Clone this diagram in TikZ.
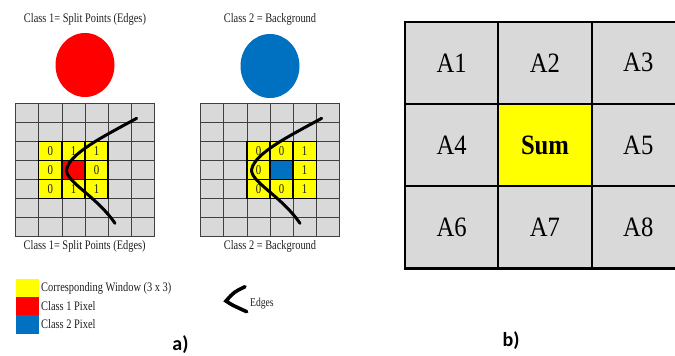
\documentclass[tikz,border=0pt]{standalone}
\usepackage{fontspec}
\setmainfont{Liberation Serif}
\newfontfamily\partfont{Carlito}
\usetikzlibrary{shapes.geometric}
\definecolor{cellgray}{HTML}{D9D9D9}
\definecolor{winyellow}{HTML}{FFFF00}
\definecolor{classred}{HTML}{FF0000}
\definecolor{classblue}{HTML}{0070C0}
\definecolor{textink}{HTML}{1F1F1F}
\newcommand{\squeezed}[1]{\scalebox{0.8}[1]{#1}}
\newcommand{\areatext}[1]{\scalebox{0.88}[1]{#1}}
\tikzset{
  grid line/.style={draw=black!75, line width=0.8pt},
  window line/.style={draw=black, line width=1.3pt},
  edge curve/.style={draw=black, line width=3pt, line cap=round},
  class disc/.style={ellipse, minimum width=59pt, minimum height=64pt,
    inner sep=0pt},
  class title/.style={font=\fontsize{13}{13}\selectfont, text=textink,
    inner sep=0pt},
  cell value/.style={font=\fontsize{13.5}{13.5}\selectfont, text=textink,
    inner sep=0pt},
  legend box/.style={minimum width=23.3pt, minimum height=18.5pt,
    inner sep=0pt, anchor=north west},
  legend text/.style={font=\fontsize{13}{13}\selectfont, text=textink,
    inner sep=0pt, anchor=west},
  area cell/.style={draw=black, line width=2.2pt, fill=cellgray,
    minimum width=93.3pt, minimum height=82.3pt, inner sep=0pt,
    font=\fontsize{28}{28}\selectfont},
  part label/.style={font=\partfont\bfseries\fontsize{20}{20}\selectfont,
    inner sep=0pt},
}

\begin{document}
\begin{tikzpicture}[x=1pt, y=-1pt]
  \useasboundingbox (0,0) rectangle (675,356);
  \clip (0,0) rectangle (675,356);

  % class 1 panel
  \node[class title] (title1) at (85,19.3) {\squeezed{Class 1= Split Points (Edges)}};
  \node[class disc, fill=classred] (disc1) at (85,65) {};
  \begin{scope}[shift={(15.7,103.3)}]
    \fill[cellgray] (0,0) rectangle (138.6,133.4);
    \fill[winyellow] (23.1,38.1) rectangle (92.4,95.3);
    \fill[classred] (46.2,57.2) rectangle (69.3,76.2);
    \foreach \gx in {0,...,6}
      \draw[grid line] (\gx*23.1,0) -- (\gx*23.1,133.4);
    \foreach \gy in {0,...,7}
      \draw[grid line] (0,\gy*19.06) -- (138.6,\gy*19.06);
    \foreach \gx in {1,...,4}
      \draw[window line] (\gx*23.1,38.12) -- (\gx*23.1,95.3);
    \foreach \gy in {2,...,5}
      \draw[window line] (23.1,\gy*19.06) -- (92.4,\gy*19.06);
    \foreach \vc/\vr/\val in {1/2/0, 2/2/1, 3/2/1, 1/3/0, 3/3/0, 1/4/0, 2/4/1, 3/4/1}
      \node[cell value] (gA\vc\vr) at (\vc*23.1+11.55,\vr*19.06+9.53) {\squeezed{\val}};
    \draw[edge curve] (121,15) .. controls (88,33) and (54,50) .. (51,66)
      .. controls (49,78) and (80,92) .. (99.3,120);
  \end{scope}
  \node[class title] (foot1) at (84.7,246.7) {\squeezed{Class 1= Split Points (Edges)}};

  % class 2 panel
  \node[class title] (title2) at (270,19) {\squeezed{Class 2 = Background}};
  \node[class disc, fill=classblue] (disc2) at (270,66) {};
  \begin{scope}[shift={(200.7,103.3)}]
    \fill[cellgray] (0,0) rectangle (138.6,133.4);
    \fill[winyellow] (46.2,38.1) rectangle (115.5,95.3);
    \fill[classblue] (69.3,57.2) rectangle (92.4,76.2);
    \foreach \gx in {0,...,6}
      \draw[grid line] (\gx*23.1,0) -- (\gx*23.1,133.4);
    \foreach \gy in {0,...,7}
      \draw[grid line] (0,\gy*19.06) -- (138.6,\gy*19.06);
    \foreach \gx in {2,...,5}
      \draw[window line] (\gx*23.1,38.12) -- (\gx*23.1,95.3);
    \foreach \gy in {2,...,5}
      \draw[window line] (46.2,\gy*19.06) -- (115.5,\gy*19.06);
    \foreach \vc/\vr/\val in {2/2/0, 3/2/0, 4/2/1, 2/3/0, 4/3/1, 2/4/0, 3/4/0, 4/4/1}
      \node[cell value] (gB\vc\vr) at (\vc*23.1+11.55,\vr*19.06+9.53) {\squeezed{\val}};
    \draw[edge curve] (121,15) .. controls (88,33) and (54,50) .. (51,66)
      .. controls (49,78) and (80,92) .. (99.3,120);
  \end{scope}
  \node[class title] (foot2) at (270,246.7) {\squeezed{Class 2 = Background}};

  % legend
  \node[legend box, fill=winyellow] (keyyellow) at (15.7,278.3) {};
  \node[legend box, fill=classred] (keyred) at (15.7,296.7) {};
  \node[legend box, fill=classblue] (keyblue) at (15.7,315) {};
  \node[legend text] (keywin) at (41,288.3) {\squeezed{Corresponding Window (3 x 3)}};
  \node[legend text] (keyone) at (41,306.5) {\squeezed{Class 1 Pixel}};
  \node[legend text] (keytwo) at (41,324.2) {\squeezed{Class 2 Pixel}};
  \coordinate (edgetop) at (245,286.7);
  \coordinate (edgetip) at (226,301);
  \coordinate (edgebot) at (246.7,311.7);
  \draw[edge curve, line width=3.6pt] (edgetop) .. controls (234,292) .. (edgetip)
    .. controls (232,305) .. (edgebot);
  \node[font=\fontsize{12}{12}\selectfont, text=textink, inner sep=0pt, anchor=west]
    (keyedge) at (250,303.3) {\squeezed{Edges}};
  \node[part label] (parta) at (180.5,345) {a)};

  % window sum
  \node[area cell] (a1) at (451.7,62.8) {\areatext{A1}};
  \node[area cell] (a2) at (545,62.8) {\areatext{A2}};
  \node[area cell] (a3) at (638.3,62.8) {\areatext{A3}};
  \node[area cell] (a4) at (451.7,145.1) {\areatext{A4}};
  \node[area cell, fill=winyellow, font=\fontsize{28}{28}\selectfont\bfseries]
    (sum) at (545,145.1) {\areatext{Sum}};
  \node[area cell] (a5) at (638.3,145.1) {\areatext{A5}};
  \node[area cell] (a6) at (451.7,227.4) {\areatext{A6}};
  \node[area cell] (a7) at (545,227.4) {\areatext{A7}};
  \node[area cell] (a8) at (638.3,227.4) {\areatext{A8}};
  \node[part label] (partb) at (511,341) {b)};
\end{tikzpicture}
\end{document}
